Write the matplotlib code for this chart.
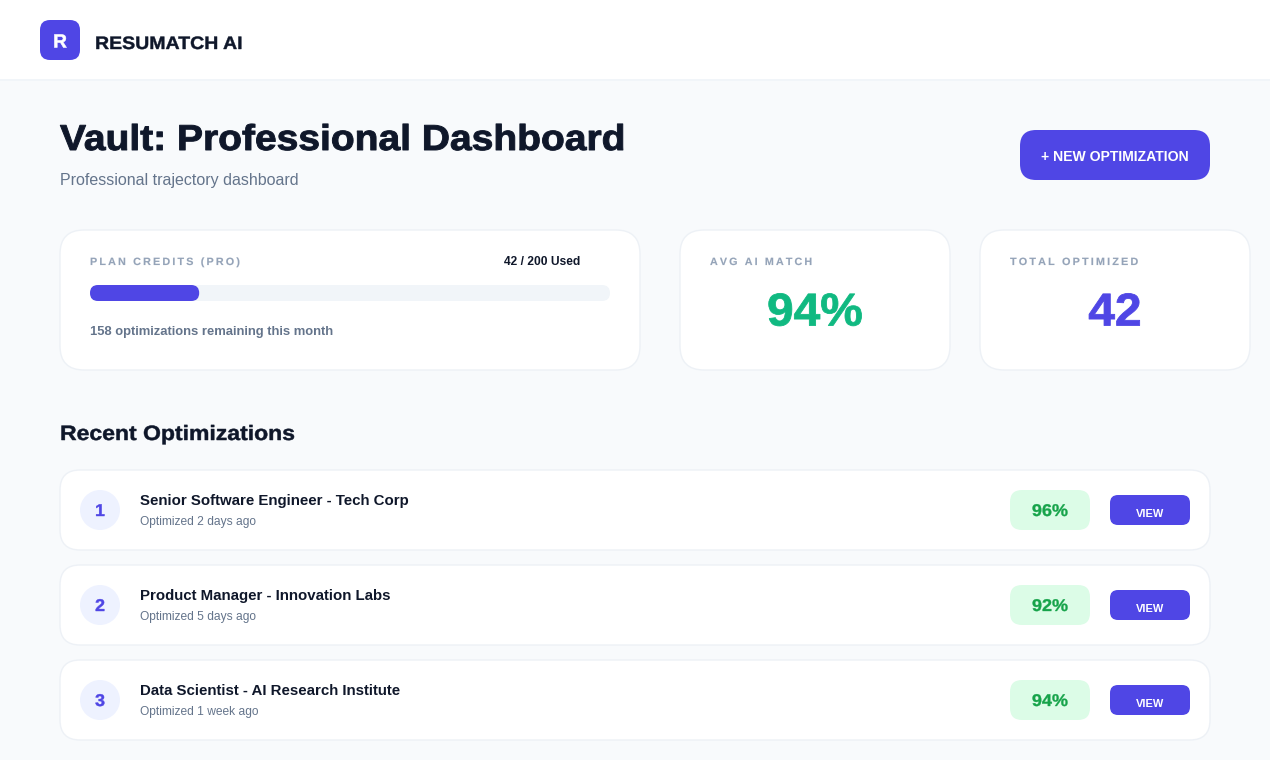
import matplotlib
matplotlib.use('Agg')
import matplotlib.pyplot as plt
import matplotlib.patheffects as pe
from matplotlib.patches import FancyBboxPatch, Circle
from matplotlib.transforms import Affine2D

plt.rcParams['font.family'] = ['Liberation Sans', 'DejaVu Sans']

# values
credits_used = 42
credits_total = 200
credits_left = 158
avg_match = 94
total_optimized = 42
job_titles = ['Senior Software Engineer - Tech Corp', 'Product Manager - Innovation Labs', 'Data Scientist - AI Research Institute']
job_ages = ['Optimized 2 days ago', 'Optimized 5 days ago', 'Optimized 1 week ago']
job_scores = [96, 92, 94]

INDIGO = '#4f46e5'
DARK = '#0f172a'
SLATE = '#64748b'
MUTED = '#94a3b8'
BORDER = '#edf1f6'


class Heavy(pe.AbstractPathEffect):
    # fake black weight: widen the glyphs around the anchor and add a stroke
    def __init__(self, x0, stretch, lw, color):
        super().__init__()
        self.x0, self.stretch, self.lw, self.color = x0, stretch, lw, color

    def draw_path(self, renderer, gc, tpath, affine, rgbFace=None):
        t = affine + Affine2D().translate(-self.x0, 0).scale(self.stretch, 1).translate(self.x0, 0)
        gc0 = renderer.new_gc()
        gc0.copy_properties(gc)
        gc0.set_linewidth(self.lw)
        gc0.set_foreground(self.color)
        gc0.set_joinstyle('round')
        renderer.draw_path(gc0, tpath, t, rgbFace)
        gc0.restore()


def box(ax, x0, y0, x1, y1, r, color, edge='none', lw=0):
    ax.add_patch(FancyBboxPatch((x0, y0), x1 - x0, y1 - y0, boxstyle='round,pad=0,rounding_size=%g' % r,
                                facecolor=color, edgecolor=edge, linewidth=lw))


def label(ax, x, y, s, px, color, weight='normal', ha='left', heavy=0, stretch=1.0):
    # px is css size, figure is 100 dpi so data units are pixels
    t = ax.text(x, y, s, fontsize=px * 0.72, color=color, fontweight=weight, ha=ha, va='center')
    if heavy or stretch != 1.0:
        t.set_path_effects([Heavy(x, stretch, heavy, color)])
    return t


def spaced(s):
    # letter-spaced caps
    return '\u2009'.join(s)


fig = plt.figure(figsize=(12.7, 7.6), dpi=100, facecolor='#f8fafc')
ax = fig.add_axes([0, 0, 1, 1])
ax.set_xlim(0, 1270)
ax.set_ylim(760, 0)
ax.axis('off')

# top bar
ax.fill_between([0, 1270], 0, 79.5, color='white', lw=0)
ax.plot([0, 1270], [79.5, 79.5], color='#f1f5f9', lw=1.4)
box(ax, 40, 20, 80, 60, 10, INDIGO)
label(ax, 60, 43, 'R', 19, 'white', 'bold', ha='center', heavy=0.4)
label(ax, 95, 44.5, 'RESUMATCH AI', 18, DARK, 'bold', heavy=0.3, stretch=1.085)

# heading
label(ax, 60, 140.5, 'Vault: Professional Dashboard', 36, DARK, 'bold', heavy=0.7, stretch=1.083)
label(ax, 60, 180, 'Professional trajectory dashboard', 16, SLATE)
box(ax, 1020, 130, 1210, 180, 16, INDIGO)
label(ax, 1115, 157, '+ NEW OPTIMIZATION', 14, 'white', 'bold', ha='center')

# stat cards
box(ax, 60, 230, 640, 370, 24, 'white', BORDER, 1.0)
box(ax, 680, 230, 950, 370, 24, 'white', BORDER, 1.0)
box(ax, 980, 230, 1250, 370, 24, 'white', BORDER, 1.0)

label(ax, 90, 262, spaced('PLAN CREDITS (PRO)'), 10.5, MUTED, 'bold', heavy=0.1, stretch=1.027)
label(ax, 580, 262, '%d / %d Used' % (credits_used, credits_total), 12, DARK, 'bold', ha='right')
box(ax, 90, 285, 610, 301, 8, '#f1f5f9')
box(ax, 90, 285, 90 + 520 * credits_used / credits_total, 301, 8, INDIGO)
label(ax, 90, 332, '%d optimizations remaining this month' % credits_left, 13, SLATE, 'bold')

label(ax, 710, 262, spaced('AVG AI MATCH'), 10.5, MUTED, 'bold', heavy=0.1, stretch=1.02)
label(ax, 815, 313.5, '%d%%' % avg_match, 46, '#10b981', 'bold', ha='center', heavy=0.6, stretch=1.04)
label(ax, 1010, 262, spaced('TOTAL OPTIMIZED'), 10.5, MUTED, 'bold', heavy=0.1, stretch=1.03)
label(ax, 1115, 313.5, '%d' % total_optimized, 46, INDIGO, 'bold', ha='center', heavy=0.6, stretch=1.04)

# list
label(ax, 60, 434.5, 'Recent Optimizations', 20.8, DARK, 'bold', heavy=0.35, stretch=1.105)
for i in range(len(job_titles)):
    y = 470 + 95 * i
    box(ax, 60, y, 1210, y + 80, 20, 'white', BORDER, 1.0)
    ax.add_patch(Circle((100, y + 40), 20, facecolor='#eef2ff', edgecolor='none'))
    label(ax, 100, y + 41.5, str(i + 1), 17, INDIGO, 'bold', ha='center', heavy=0.3, stretch=1.05)
    label(ax, 140, y + 31, job_titles[i], 15, DARK, 'bold')
    label(ax, 140, y + 52, job_ages[i], 12, SLATE)
    box(ax, 1010, y + 20, 1090, y + 60, 12, '#dcfce7')
    label(ax, 1050, y + 41.5, '%d%%' % job_scores[i], 17, '#16a34a', 'bold', ha='center', heavy=0.25, stretch=1.06)
    box(ax, 1110, y + 25, 1190, y + 55, 8, INDIGO)
    label(ax, 1150, y + 44, 'VIEW', 11, 'white', 'bold', ha='center')

fig.savefig('out.png', dpi=100, facecolor=fig.get_facecolor())
